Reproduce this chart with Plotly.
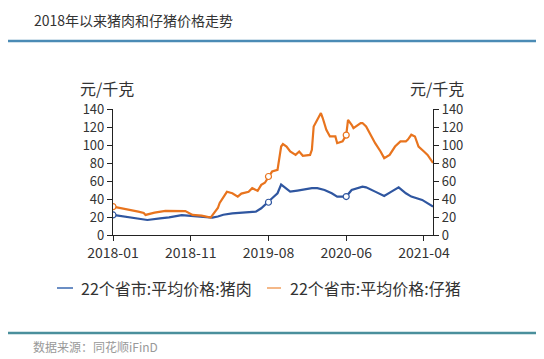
import plotly.graph_objects as go
from datetime import date, timedelta

START = date(2018, 1, 5)

# week offsets from 2018-01-05 and prices (元/千克)
pork_weeks = [0, 7, 14, 19, 26, 31, 38, 45, 51, 55, 58, 61, 66, 73, 79, 82, 86, 88, 91, 93,
              95, 98, 102, 106, 110, 113, 117, 121, 124, 129, 132, 138, 140, 145, 150, 154,
              158, 162, 165, 171, 177]
pork = [22.3, 20.5, 18.5, 16.7, 18.5, 19.5, 22.0, 21.0, 20.4, 19.3, 20.5, 22.5, 24.0, 25.0,
        26.0, 29.7, 36.4, 40.8, 46.4, 56.0, 53.0, 48.2, 49.4, 51.0, 52.0, 52.0, 50.0, 46.4,
        42.7, 42.7, 50.0, 53.8, 53.0, 48.2, 43.4, 48.2, 53.0, 46.4, 42.7, 39.0, 31.5]

piglet_weeks = [0, 7, 14, 17, 18, 23, 29, 40, 44, 49, 54, 58, 59, 63, 66, 69, 71, 75, 77, 80,
                82, 84, 86, 88, 91, 92, 93, 94, 96, 98, 101, 103, 105, 109, 110, 111, 113, 115,
                116, 118, 120, 123, 124, 127, 129, 130, 132, 133, 137, 138, 140, 142, 145, 148,
                150, 153, 156, 159, 162, 163, 165, 167, 169, 172, 174, 177]
piglet = [31.5, 29.0, 26.0, 24.5, 22.3, 24.8, 26.7, 26.5, 22.3, 21.5, 19.3, 30.0, 35.6, 48.0,
          46.4, 42.7, 46.0, 48.0, 52.0, 49.0, 55.7, 58.0, 65.0, 70.5, 72.4, 83.5, 98.3, 101.0,
          98.3, 92.8, 89.0, 92.8, 88.0, 89.0, 94.7, 120.6, 128.0, 135.5, 130.0, 117.0, 109.5,
          109.5, 102.0, 104.0, 111.0, 128.0, 122.5, 118.8, 124.4, 124.4, 120.6, 113.0, 102.0,
          92.8, 85.4, 89.0, 98.3, 104.0, 104.0, 105.8, 111.4, 109.5, 98.3, 92.8, 89.0, 80.0]

marker_weeks = [0, 86, 129]
tick_weeks = [0, 43, 86, 129, 172]
tick_labels = ["2018-01", "2018-11", "2019-08", "2020-06", "2021-04"]
y_ticks = [0, 20, 40, 60, 80, 100, 120, 140]

names = ["22个省市:平均价格:猪肉", "22个省市:平均价格:仔猪"]
colors = ["#2f56a0", "#e8741e"]


def wk(w):
    return START + timedelta(weeks=w)


pork_dates = [wk(w) for w in pork_weeks]
piglet_dates = [wk(w) for w in piglet_weeks]

FONT = "Noto Sans CJK SC"
OFF = 8  # default page body margin
W, H = 544 - OFF, 359 - OFF
L, R, T, B = 113 - OFF, 433 - OFF, 109 - OFF, 235 - OFF


def px(x):
    return (x - OFF - L) / (R - L)


def py(y):
    return (B - (y - OFF)) / (B - T)


fig = go.Figure()
for d, v, n, c, ws in [(pork_dates, pork, names[0], colors[0], pork_weeks),
                       (piglet_dates, piglet, names[1], colors[1], piglet_weeks)]:
    fig.add_trace(go.Scatter(x=d, y=v, mode="lines", name=n,
                             line=dict(color=c, width=2.2), showlegend=False))
    mx = [d[ws.index(w)] for w in marker_weeks]
    my = [v[ws.index(w)] for w in marker_weeks]
    fig.add_trace(go.Scatter(x=mx, y=my, mode="markers", showlegend=False,
                             marker=dict(size=6, color="white",
                                         line=dict(color=c, width=1.2))))

# dummy trace for right axis
fig.add_trace(go.Scatter(x=[pork_dates[0]], y=[0], yaxis="y2", mode="markers",
                         marker=dict(opacity=0), showlegend=False, hoverinfo="skip"))

axis_common = dict(showline=True, linecolor="#222", linewidth=1.2, ticks="outside",
                   tickcolor="#222", ticklen=5, showgrid=False, zeroline=False)

fig.update_layout(
    width=W, height=H, margin=dict(l=L, r=W - R, t=T, b=H - B),
    paper_bgcolor="white", plot_bgcolor="white",
    xaxis=dict(range=[wk(0), wk(177)], tickvals=[wk(w) for w in tick_weeks],
               ticktext=tick_labels, tickfont=dict(family=FONT, size=14, color="#333"),
               **axis_common),
    yaxis=dict(range=[0, 140], tickvals=y_ticks,
               tickfont=dict(family=FONT, size=13, color="#333"), **axis_common),
    yaxis2=dict(range=[0, 140], tickvals=y_ticks, overlaying="y", side="right",
                tickfont=dict(family=FONT, size=13, color="#333"), **axis_common),
    showlegend=False,
)

ann = []


def text(t, x, y, size, color="#333"):
    ann.append(dict(text=t, x=px(x), y=py(y), xref="paper", yref="paper",
                    xanchor="left", yanchor="middle", showarrow=False,
                    font=dict(family=FONT, size=size, color=color)))


text("2018年以来猪肉和仔猪价格走势", 32, 20, 14)
text("元/千克", 78, 88, 16)
text("元/千克", 408, 88, 16)
text("数据来源：同花顺iFinD", 31, 346, 12, "#999")
text(names[0], 79, 288, 16)
text(names[1], 288, 288, 16)

shapes = [
    dict(type="line", xref="paper", yref="paper", x0=px(0), x1=px(544), y0=py(41), y1=py(41),
         line=dict(color="#4b8bb5", width=2.5)),
    dict(type="line", xref="paper", yref="paper", x0=px(0), x1=px(544), y0=py(333), y1=py(333),
         line=dict(color="#4a8f9c", width=2.5)),
    dict(type="line", xref="paper", yref="paper", x0=px(57), x1=px(73), y0=py(288), y1=py(288),
         line=dict(color="#3a68b0", width=1.5)),
    dict(type="line", xref="paper", yref="paper", x0=px(267), x1=px(281), y0=py(288), y1=py(288),
         line=dict(color="#f0a060", width=1.5)),
]

fig.update_layout(annotations=ann, shapes=shapes)
fig.write_html("out.html")
